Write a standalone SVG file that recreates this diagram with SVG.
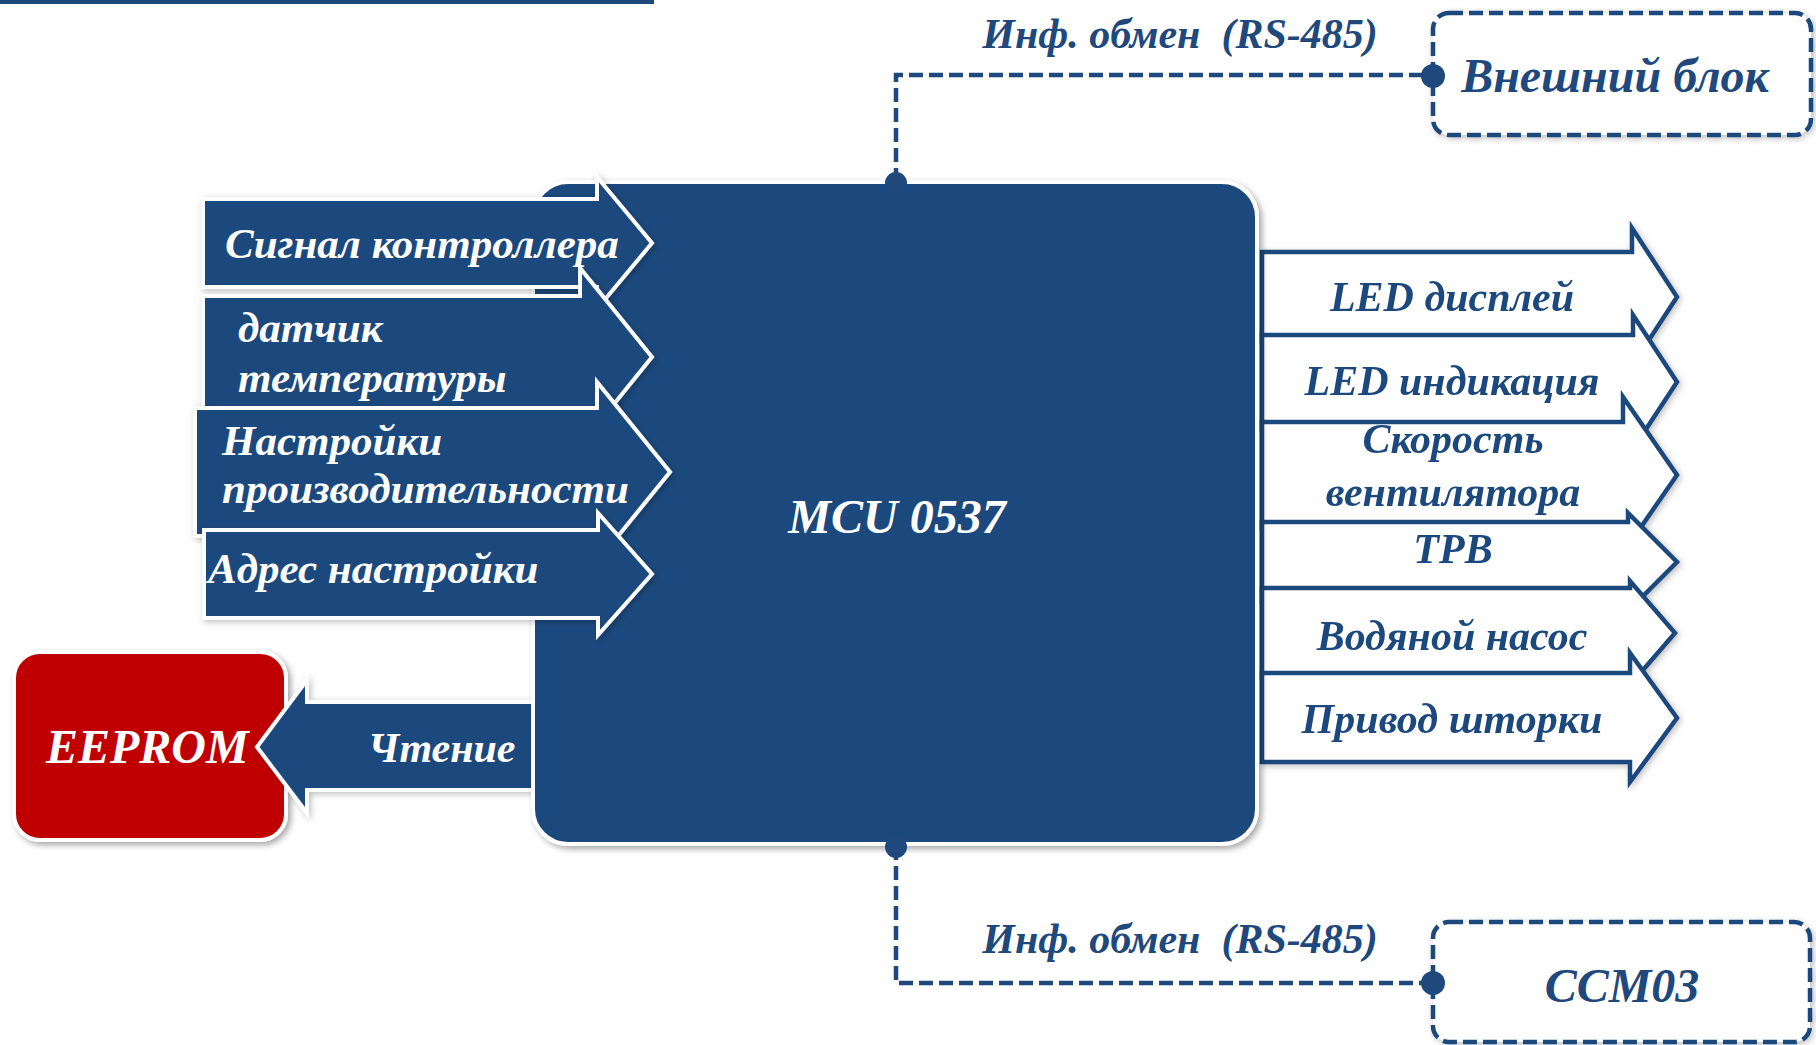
<svg xmlns="http://www.w3.org/2000/svg" width="1816" height="1045" viewBox="0 0 1816 1045">
<defs>
<filter id="sh" x="-10%" y="-10%" width="120%" height="120%">
<feDropShadow dx="3" dy="3" stdDeviation="3" flood-color="#000" flood-opacity="0.35"/>
</filter>
<filter id="shl" x="-10%" y="-10%" width="120%" height="120%">
<feDropShadow dx="2" dy="2" stdDeviation="3" flood-color="#000" flood-opacity="0.25"/>
</filter>
</defs>
<style>
.blue{fill:#1F497D;stroke:#fff;stroke-width:4;stroke-linejoin:miter}
.out{fill:#fff;stroke:#1F497D;stroke-width:4.5;stroke-linejoin:miter}
.dash{fill:#fff;stroke:#1F497D;stroke-width:4.5;stroke-dasharray:14 6}
.conn{fill:none;stroke:#1F497D;stroke-width:4.5;stroke-dasharray:14 6}
.dot{fill:#1F497D}
.tw{fill:#fff;font-family:"Liberation Serif","Times New Roman",serif;font-style:italic;font-weight:bold}
.tb{fill:#1F497D;font-family:"Liberation Serif","Times New Roman",serif;font-style:italic;font-weight:bold}
</style>
<rect x="0" y="0" width="654" height="4" fill="#1F497D"/>

<g id="out-arrows" filter="url(#shl)">
<g id="led-display"><polygon class="out" points="1262,252 1632,252 1632,228 1677,297 1632,366 1632,342 1262,342"/><text class="tb" x="1452" y="311" font-size="42" text-anchor="middle">LED дисплей</text></g>
<g id="led-ind"><polygon class="out" points="1262,335 1633,335 1633,315 1677,382 1633,449 1633,429 1262,429"/><text class="tb" x="1452" y="395" font-size="42" text-anchor="middle">LED индикация</text></g>
<g id="fan"><polygon class="out" points="1262,422 1623,422 1623,397 1677,475 1623,553 1623,528 1262,528"/><text class="tb" x="1453" y="453" font-size="42" text-anchor="middle">Скорость</text><text class="tb" x="1453" y="506" font-size="42" text-anchor="middle">вентилятора</text></g>
<g id="trv"><polygon class="out" points="1262,522 1628,522 1628,513 1677,562 1628,611 1628,602 1262,602"/><text class="tb" x="1453" y="563" font-size="42" text-anchor="middle">ТРВ</text></g>
<g id="pump"><polygon class="out" points="1262,588 1630,588 1630,581 1675,633 1630,685 1630,678 1262,678"/><text class="tb" x="1452" y="650" font-size="42" text-anchor="middle">Водяной насос</text></g>
<g id="shutter"><polygon class="out" points="1262,673 1630,673 1630,653 1677,718 1630,782 1630,762 1262,762"/><text class="tb" x="1452" y="733" font-size="42" text-anchor="middle">Привод шторки</text></g>
</g>

<g id="eeprom">
<rect class="blue" x="14" y="652" width="272" height="188" rx="26" style="fill:#C00000" filter="url(#sh)"/>
<text class="tw" x="46" y="763" font-size="48">EEPROM</text>
</g>

<g id="read">
<polygon class="blue" filter="url(#shl)" points="545,702 307,702 307,680 257,747 307,813 307,790 545,790"/>
<text class="tw" x="368" y="762" font-size="42">Чтение</text>
</g>

<g id="mcu">
<rect class="blue" x="533" y="182" width="724" height="662" rx="35" filter="url(#sh)"/>
<text class="tw" x="897" y="533" font-size="48" text-anchor="middle">MCU 0537</text>
</g>

<g id="in-arrows">
<g id="sig"><polygon class="blue" filter="url(#shl)" points="203,199 597,199 597,177 652,243 597,309 597,287 203,287"/><text class="tw" x="225" y="258" font-size="43">Сигнал контроллера</text></g>
<g id="temp"><polygon class="blue" filter="url(#shl)" points="203,296 580,296 580,268 652,357 580,446 580,418 203,418"/><text class="tw" x="238" y="342" font-size="43">датчик</text><text class="tw" x="238" y="392" font-size="43">температуры</text></g>
<g id="perf"><polygon class="blue" filter="url(#shl)" points="195,408 597,408 597,382 670,472 597,562 597,536 195,536"/><text class="tw" x="222" y="455" font-size="43">Настройки</text><text class="tw" x="222" y="503" font-size="43">производительности</text></g>
<g id="addr"><polygon class="blue" filter="url(#shl)" points="204,530 598,530 598,513 652,574 598,635 598,618 204,618"/><text class="tw" x="208" y="583" font-size="43">Адрес настройки</text></g>
</g>

<g id="ext">
<rect class="dash" x="1433" y="13" width="378" height="122" rx="16" filter="url(#shl)"/>
<text class="tb" x="1615" y="92" font-size="48" text-anchor="middle">Внешний блок</text>
</g>
<g id="ccm">
<rect class="dash" x="1433" y="922" width="377" height="120" rx="16" filter="url(#shl)"/>
<text class="tb" x="1622" y="1002" font-size="48" text-anchor="middle">CCM03</text>
</g>

<g id="connectors">
<path class="conn" d="M896,182 V75 H1433"/>
<path class="conn" d="M896,846 V983 H1433"/>
<circle class="dot" cx="896" cy="183" r="11"/>
<circle class="dot" cx="1433" cy="76" r="12"/>
<circle class="dot" cx="896" cy="847" r="11"/>
<circle class="dot" cx="1433" cy="983" r="12"/>
<text class="tb" x="1180" y="48" font-size="42" text-anchor="middle" xml:space="preserve">Инф. обмен  (RS-485)</text>
<text class="tb" x="1180" y="953" font-size="42" text-anchor="middle" xml:space="preserve">Инф. обмен  (RS-485)</text>
</g>
</svg>
